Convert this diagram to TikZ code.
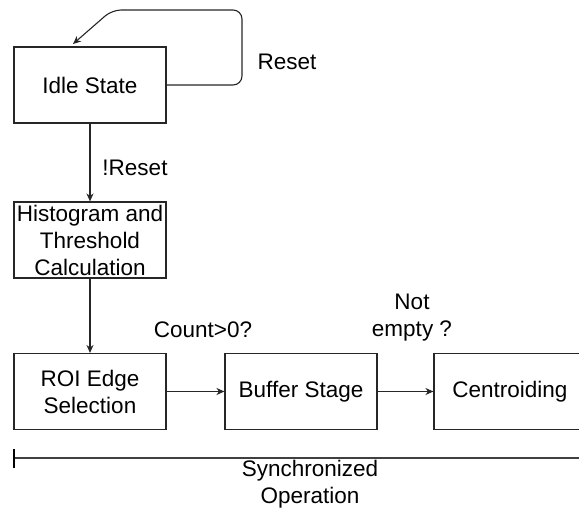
\documentclass[tikz,border=0pt]{standalone}
\usepackage{fontspec}
\setmainfont{Liberation Sans}
\usetikzlibrary{arrows.meta}
\begin{document}
\begin{tikzpicture}[x=1pt,y=-1pt,
  every node/.style={font=\fontsize{22.5}{27}\selectfont},
  stagebox/.style={draw=black!85,line width=1.1pt,minimum width=152pt,minimum height=76pt,inner sep=0pt,align=center},
  lbl/.style={align=center,inner sep=0pt},
  conn/.style={draw=black!85,line width=1.1pt,-{Stealth[length=8pt,width=7pt,inset=2.5pt]}}]
\useasboundingbox (0,0) rectangle (579,508);
\clip (0,0) rectangle (579,508);
\node[stagebox] (idle) at (90,85) {Idle State};
\node[stagebox] (hist) at (90,240) {Histogram and\\Threshold\\Calculation};
\node[stagebox] (roi) at (90,391.5) {ROI Edge\\Selection};
\node[stagebox] (buf) at (301,391.5) {Buffer Stage};
\node[stagebox] (cen) at (510,391.5) {Centroiding};
\coordinate (loopend) at (73,44);
\draw[conn,rounded corners=9pt] (idle.east) -- (242,85) -- (242,10) -- (112,10) -- (loopend);
\node[lbl] (resetlbl) at (287,62) {Reset};
\draw[conn] (idle) -- (hist);
\node[lbl] (nresetlbl) at (135,168) {!Reset};
\draw[conn] (hist) -- (roi);
\draw[conn] (roi) -- (buf);
\draw[conn] (buf) -- (cen);
\node[lbl] (countlbl) at (203,330) {Count>0?};
\node[lbl] (emptylbl) at (412,318) {Not\\empty ?};
\coordinate (synL) at (14,458);
\coordinate (synR) at (606,458);
\draw[line width=1.1pt,draw=black!75] (synL) -- (synR);
\draw[line width=1.4pt] (14,449) -- (14,468);
\node[lbl] (synlbl) at (310,484) {Synchronized\\Operation};
\end{tikzpicture}
\end{document}
